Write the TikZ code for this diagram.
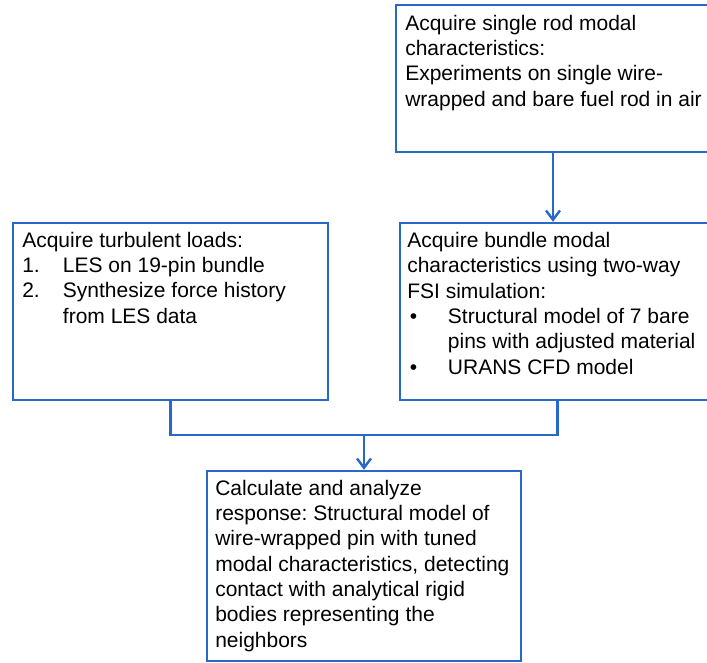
\documentclass[tikz,border=0pt]{standalone}
\usepackage{fontspec}
\setmainfont{Liberation Sans}
\frenchspacing
\usetikzlibrary{arrows.meta,fit}
\definecolor{flowblue}{RGB}{40,105,200}
\tikzset{
  box/.style={draw=flowblue, line width=1.8pt, inner sep=0pt, fit=#1},
  label/.style={anchor=base west, inner sep=0pt, align=left, text=black,
    font=\fontsize{15.75pt}{19pt}\selectfont},
  link/.style={draw=flowblue, line width=1.8pt},
  arrowlink/.style={link, -{Straight Barb[length=7pt,width=10.5pt,line width=1.8pt]}}
}
\newcommand{\itm}[1]{\makebox[30.5pt][l]{#1}}
\begin{document}
\begin{tikzpicture}[x=0.75pt,y=-0.75pt]
\useasboundingbox (0,0) rectangle (707,662);
% corner coordinates
\coordinate (a1) at (396,5);   \coordinate (c1) at (710,152);
\coordinate (a2) at (13,223);  \coordinate (c2) at (328,400);
\coordinate (a3) at (400,223); \coordinate (c3) at (715,400);
\coordinate (a4) at (207,471); \coordinate (c4) at (521,661);
\node[box=(a1)(c1)] (b1) {};
\node[box=(a2)(c2)] (b2) {};
\node[box=(a3)(c3)] (b3) {};
\node[box=(a4)(c4)] (b4) {};
% texts (anchored at the baseline of their last line)
\node[label] (t1) at (405,106) {Acquire single rod modal\\characteristics:\\Experiments on single wire-\\wrapped and bare fuel rod in air};
\node[label] (t2) at (22,323) {Acquire turbulent loads:\\\itm{1.}LES on 19-pin bundle\\\itm{2.}Synthesize force history\\\itm{}from LES data};
\node[label] (t3) at (407,374) {Acquire bundle modal\\characteristics using two-way\\FSI simulation:\\\itm{\hspace*{2pt}\textbullet}Structural model of 7 bare\\\itm{}pins with adjusted material\\\itm{\hspace*{2pt}\textbullet}URANS CFD model};
\node[label] (t4) at (215,647) {Calculate and analyze\\response: Structural model of\\wire-wrapped pin with tuned\\modal characteristics, detecting\\contact with analytical rigid\\bodies representing the\\neighbors};
% connectors
\coordinate (j) at (364,435);
\draw[arrowlink] (b1.south) -- (b1.south |- b3.north);
\draw[link] (b2.south) |- (j) -| (b3.south);
\draw[arrowlink] (j) -- (b4.north);
\end{tikzpicture}
\end{document}
